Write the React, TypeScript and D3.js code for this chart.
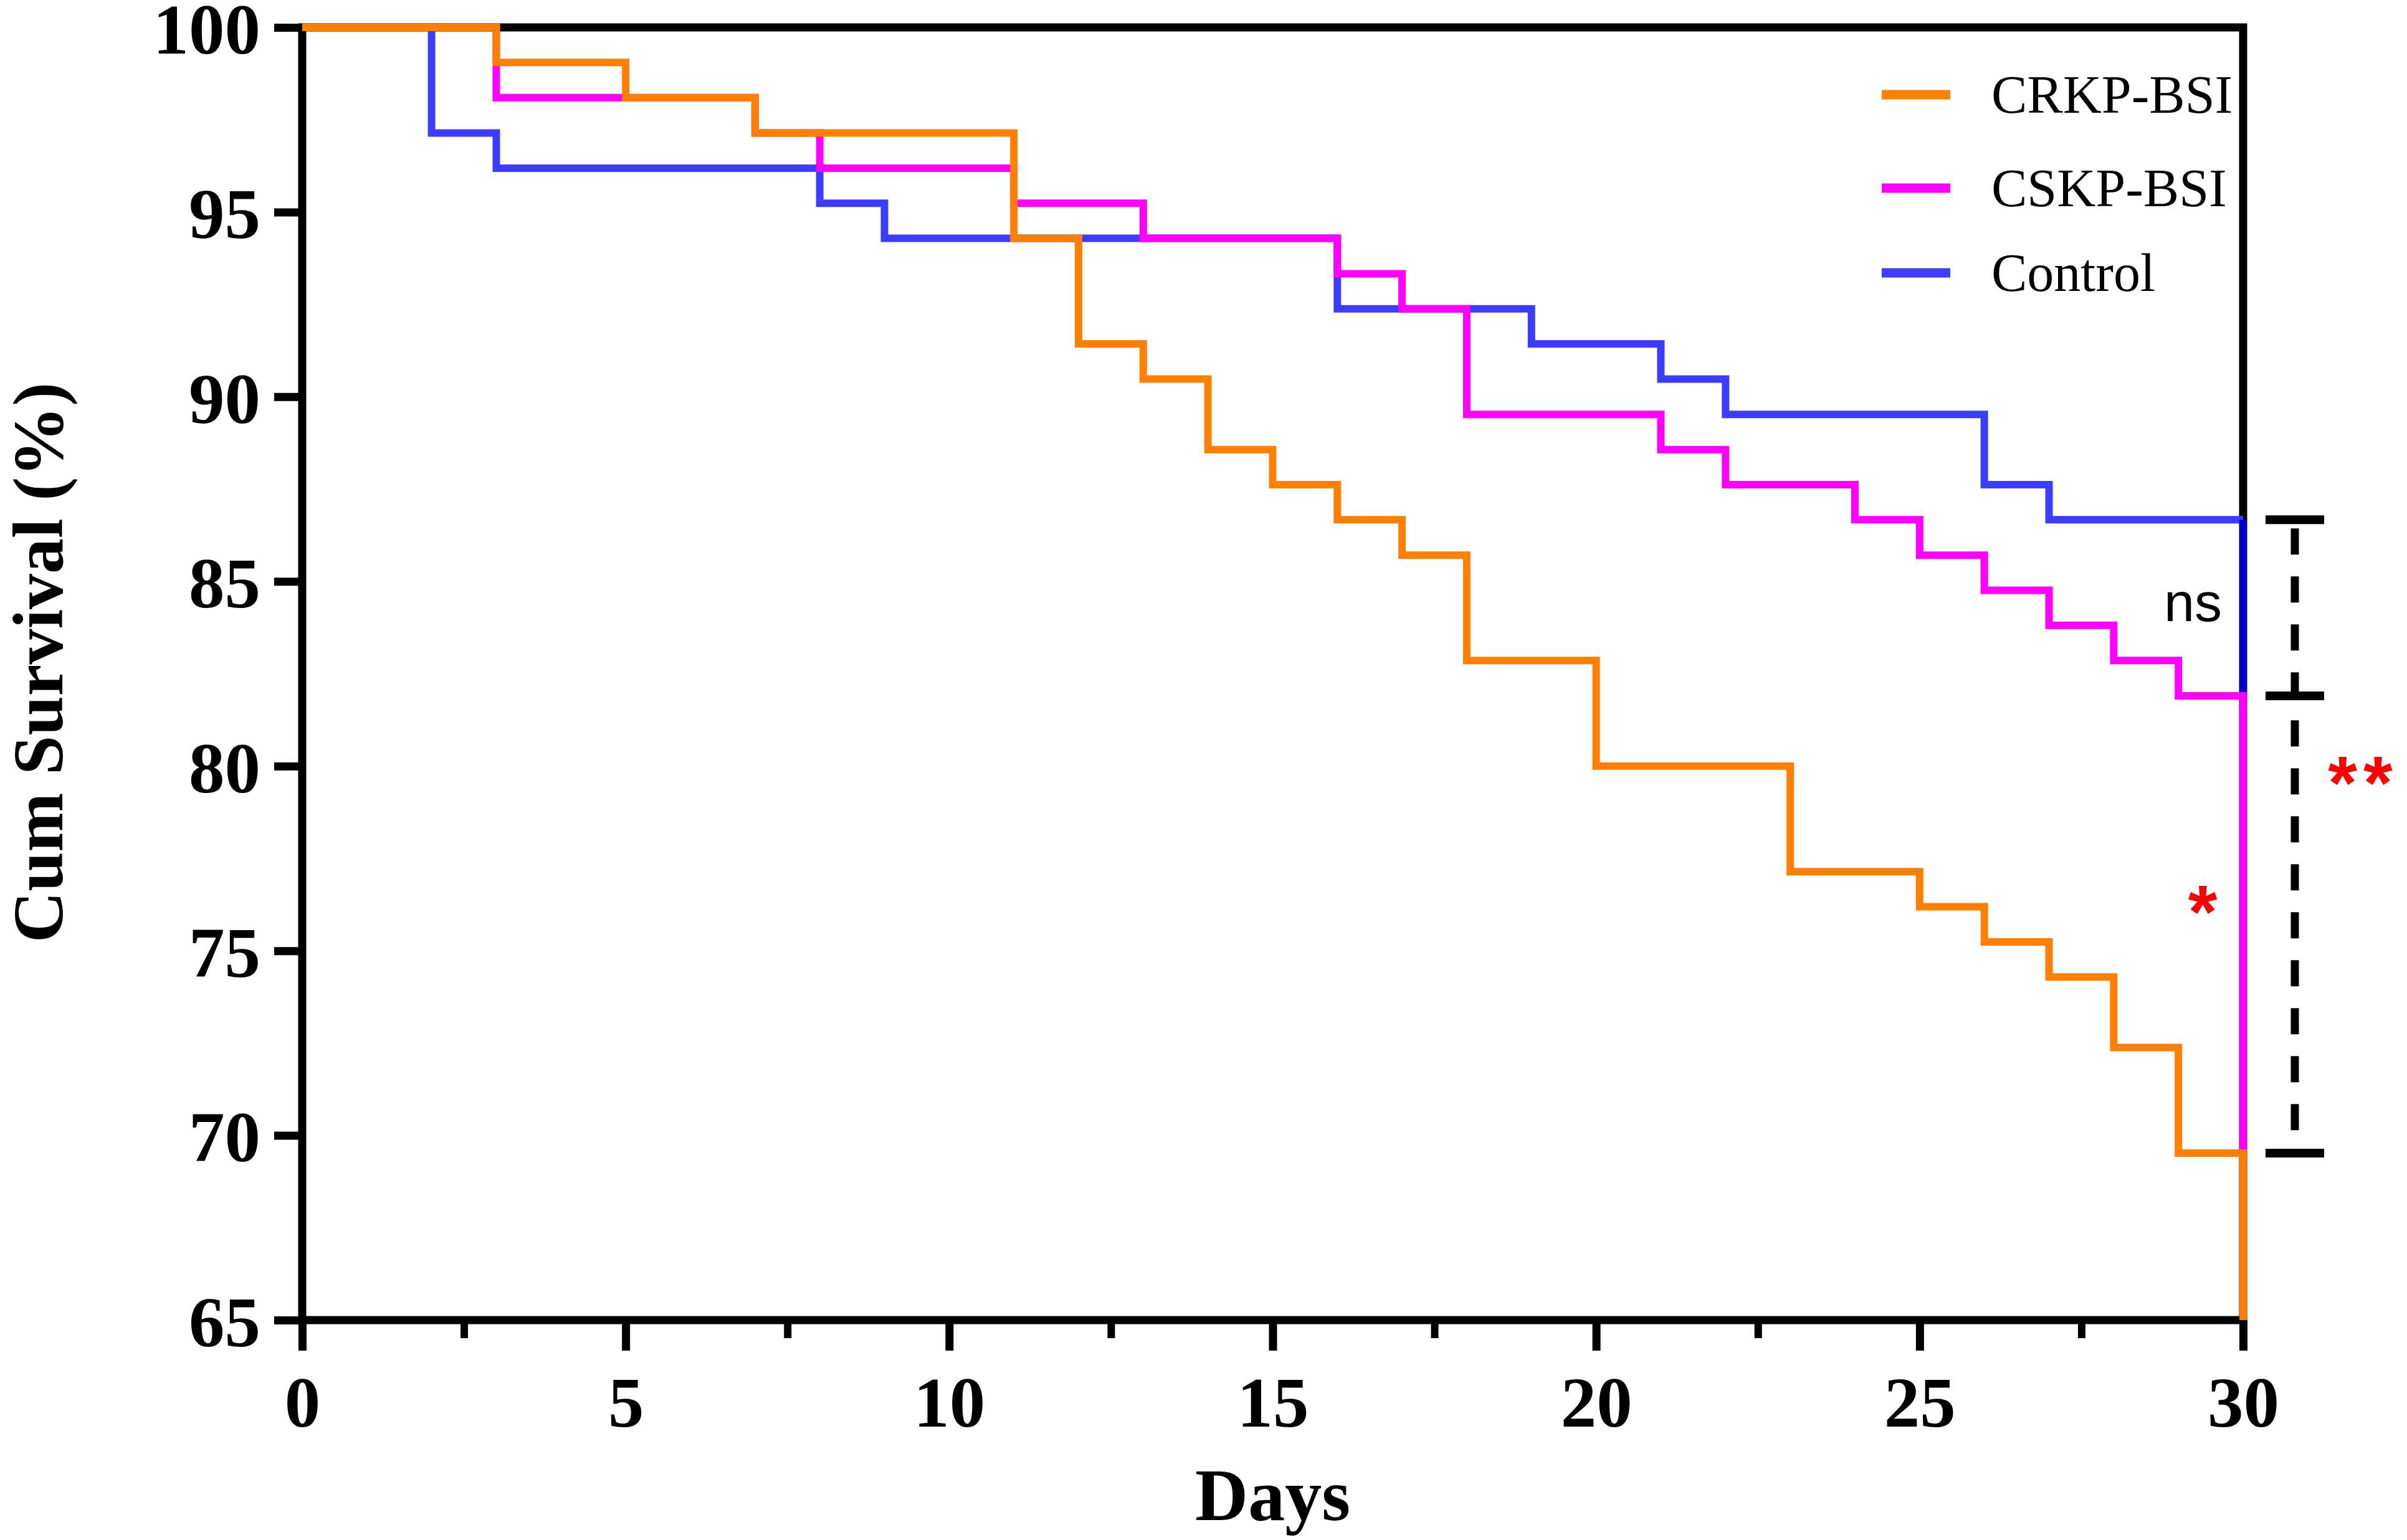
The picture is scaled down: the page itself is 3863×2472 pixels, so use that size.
import { useEffect, useRef } from 'react';
import * as d3 from 'd3';

// Kaplan-Meier steps (day of event, survival % after it)
const crkpDays = [0, 3, 5, 7, 11, 12, 13, 14, 15, 16, 17, 18, 20, 23, 25, 26, 27, 28, 29];
const crkpSurvival = [100, 99.05, 98.1, 97.14, 94.29, 91.43, 90.48, 88.57, 87.62, 86.67, 85.71, 82.86, 80.0, 77.14, 76.19, 75.24, 74.29, 72.38, 69.52];

const cskpDays = [0, 3, 7, 8, 11, 13, 16, 17, 18, 21, 22, 24, 25, 26, 27, 28, 29];
const cskpSurvival = [100, 98.1, 97.14, 96.19, 95.24, 94.29, 93.33, 92.38, 89.52, 88.57, 87.62, 86.67, 85.71, 84.76, 83.81, 82.86, 81.9];

const controlDays = [0, 2, 3, 8, 9, 16, 19, 21, 22, 26, 27];
const controlSurvival = [100, 97.14, 96.19, 95.24, 94.29, 92.38, 91.43, 90.48, 89.52, 87.62, 86.67];

const groupNames = ['CRKP-BSI', 'CSKP-BSI', 'Control'];
const groupColors = ['#ff8000', '#ff00ff', '#3c3cff'];

const xTicks = [0, 5, 10, 15, 20, 25, 30];
const xMinorTicks = [2.5, 7.5, 12.5, 17.5, 22.5, 27.5];
const yTicks = [65, 70, 75, 80, 85, 90, 95, 100];
const sigLabels = ['ns', '*', '**'];

const W = 3863;
const H = 2472;
const serif = '"Liberation Serif", "Times New Roman", serif';
const sans = '"Liberation Sans", Arial, sans-serif';

export default function App() {
  const svgRef = useRef<SVGSVGElement | null>(null);

  useEffect(() => {
    if (!svgRef.current) return;
    const svg = d3.select(svgRef.current);
    svg.selectAll('*').remove();

    const x = d3.scaleLinear().domain([0, 30]).range([485, 3600]);
    const y = d3.scaleLinear().domain([65, 100]).range([2119, 44]);
    const [x0, x1] = x.range();
    const [y0, y1] = y.range();

    // frame
    svg.append('rect')
      .attr('x', x0).attr('y', y1)
      .attr('width', x1 - x0).attr('height', y0 - y1)
      .attr('fill', 'none').attr('stroke', '#000').attr('stroke-width', 13);

    // y axis
    const yAxis = svg.append('g')
      .attr('transform', `translate(${x0},0)`)
      .call(d3.axisLeft(y).tickValues(yTicks).tickSize(45).tickPadding(22).tickFormat(d3.format('d')));
    yAxis.select('.domain').remove();
    yAxis.selectAll('line').attr('stroke', '#000').attr('stroke-width', 13);
    yAxis.selectAll('text')
      .attr('fill', '#000').attr('font-size', 115).attr('font-weight', 'bold')
      .attr('font-family', serif).attr('dy', '0.36em');

    // x axis, major + minor ticks
    const xAxis = svg.append('g')
      .attr('transform', `translate(0,${y0})`)
      .call(d3.axisBottom(x).tickValues(xTicks).tickSize(49).tickFormat(d3.format('d')));
    xAxis.select('.domain').remove();
    xAxis.selectAll('line').attr('stroke', '#000').attr('stroke-width', 13);
    xAxis.selectAll('text')
      .attr('fill', '#000').attr('font-size', 115).attr('font-weight', 'bold')
      .attr('font-family', serif).attr('y', 171).attr('dy', 0);

    const xMinor = svg.append('g')
      .attr('transform', `translate(0,${y0})`)
      .call(d3.axisBottom(x).tickValues(xMinorTicks).tickSize(29).tickFormat(() => ''));
    xMinor.select('.domain').remove();
    xMinor.selectAll('line').attr('stroke', '#000').attr('stroke-width', 12);

    // axis titles
    svg.append('text')
      .attr('transform', `translate(100,${(y0 + y1) / 2 - 18}) rotate(-90)`)
      .attr('text-anchor', 'middle')
      .attr('font-family', serif).attr('font-weight', 'bold').attr('font-size', 114)
      .text('Cum Survival (%)');

    svg.append('text')
      .attr('x', (x0 + x1) / 2).attr('y', 2440)
      .attr('text-anchor', 'middle')
      .attr('font-family', serif).attr('font-weight', 'bold').attr('font-size', 118)
      .text('Days');

    // curves
    const line = d3.line<[number, number]>()
      .x(d => x(d[0]))
      .y(d => y(d[1]))
      .curve(d3.curveStepAfter);

    const series = [
      { days: crkpDays, surv: crkpSurvival },
      { days: cskpDays, surv: cskpSurvival },
      { days: controlDays, surv: controlSurvival },
    ];
    const lasts = series.map(s => s.surv[s.surv.length - 1]);
    // each curve drops at day 30 to the next-lower curve's end (orange to the axis)
    const dropTo = [y.domain()[0], lasts[0], lasts[1]];

    const plot = svg.append('g');
    [2, 1, 0].forEach(i => {
      const s = series[i];
      const pts: [number, number][] = s.days.map((d, j) => [d, s.surv[j]] as [number, number]);
      pts.push([30, lasts[i]]);
      if (i !== 2) pts.push([30, dropTo[i]]);
      plot.append('path')
        .attr('d', line(pts))
        .attr('fill', 'none')
        .attr('stroke', groupColors[i])
        .attr('stroke-width', 12)
        .attr('stroke-linejoin', 'miter');
      if (i === 2) {
        plot.append('path')
          .attr('d', line([[30, lasts[2]], [30, dropTo[2]]]))
          .attr('fill', 'none')
          .attr('stroke', '#0000cc')
          .attr('stroke-width', 12);
      }
    });

    // legend
    const legendY = [152, 302, 438];
    const legend = svg.append('g');
    groupNames.forEach((name, i) => {
      legend.append('line')
        .attr('x1', 3020).attr('x2', 3130)
        .attr('y1', legendY[i]).attr('y2', legendY[i])
        .attr('stroke', groupColors[i]).attr('stroke-width', 15);
      legend.append('text')
        .attr('x', 3196).attr('y', legendY[i] + 29)
        .attr('font-family', serif).attr('font-size', 86)
        .text(name);
    });

    // significance bracket
    const bx = 3683;
    const capW = 47;
    const ends = [lasts[2], lasts[1], lasts[0]];
    svg.append('line')
      .attr('x1', bx).attr('x2', bx)
      .attr('y1', y(ends[0]) + 14).attr('y2', y(ends[2]))
      .attr('stroke', '#000').attr('stroke-width', 13)
      .attr('stroke-dasharray', '42 35');
    ends.forEach(v => {
      svg.append('line')
        .attr('x1', bx - capW).attr('x2', bx + capW)
        .attr('y1', y(v)).attr('y2', y(v))
        .attr('stroke', '#000').attr('stroke-width', 14);
    });

    svg.append('text')
      .attr('x', 3566).attr('y', 997)
      .attr('text-anchor', 'end')
      .attr('font-family', sans).attr('font-size', 88)
      .text(sigLabels[0]);
    svg.append('text')
      .attr('x', 3535).attr('y', 1505)
      .attr('text-anchor', 'middle')
      .attr('font-family', sans).attr('font-weight', 'bold').attr('font-size', 120)
      .attr('fill', '#ff0000')
      .text(sigLabels[1]);
    svg.append('text')
      .attr('x', 3793).attr('y', 1298)
      .attr('text-anchor', 'middle')
      .attr('font-family', sans).attr('font-weight', 'bold').attr('font-size', 120)
      .attr('letter-spacing', 10)
      .attr('fill', '#ff0000')
      .text(sigLabels[2]);
  }, []);

  return (
    <svg
      ref={svgRef}
      width={W}
      height={H}
      style={{ position: 'absolute', left: 0, top: 0, background: '#fff' }}
    />
  );
}
